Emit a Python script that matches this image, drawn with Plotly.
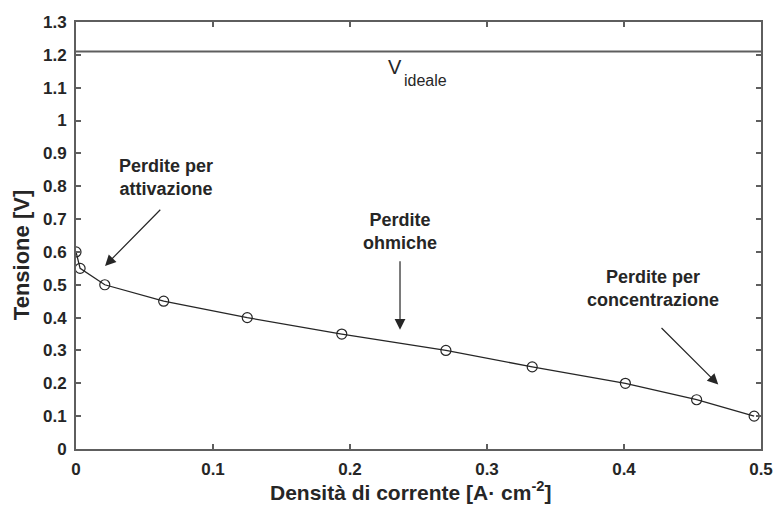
import plotly.graph_objects as go

# Polarization curve of a fuel cell: current density vs. cell voltage
current_density = [0.0, 0.003, 0.021, 0.064, 0.125, 0.194, 0.270, 0.333, 0.401, 0.453, 0.495]
cell_voltage = [0.60, 0.55, 0.50, 0.45, 0.40, 0.35, 0.30, 0.25, 0.20, 0.15, 0.10]

# Ideal (reversible) voltage level
v_ideal = 1.21
ideal_x = [0.0, 0.5]

x_ticks = [0, 0.1, 0.2, 0.3, 0.4, 0.5]
x_tick_labels = ["0", "0.1", "0.2", "0.3", "0.4", "0.5"]
y_ticks = [0, 0.1, 0.2, 0.3, 0.4, 0.5, 0.6, 0.7, 0.8, 0.9, 1.0, 1.1, 1.2, 1.3]
y_tick_labels = ["0", "0.1", "0.2", "0.3", "0.4", "0.5", "0.6", "0.7", "0.8",
                 "0.9", "1", "1.1", "1.2", "1.3"]

AXIS_GREY = "#5e5e5e"
INK = "#262626"
FONT = "Liberation Sans, Arial, sans-serif"

fig = go.Figure()

fig.add_trace(go.Scatter(
    x=ideal_x, y=[v_ideal] * len(ideal_x),
    mode="lines", line=dict(color=AXIS_GREY, width=2),
    hoverinfo="skip", showlegend=False,
))

fig.add_trace(go.Scatter(
    x=current_density, y=cell_voltage,
    mode="lines+markers",
    line=dict(color=INK, width=1.3),
    marker=dict(symbol="circle-open", size=10, color=INK, line=dict(width=1.2)),
    showlegend=False,
))

axis_common = dict(
    showgrid=False, zeroline=False,
    showline=True, linecolor=AXIS_GREY, linewidth=2,
    ticks="inside", ticklen=5, tickwidth=1.5, tickcolor=AXIS_GREY,
    mirror="ticks", automargin=False,
    tickfont=dict(family=FONT, size=17, color=INK, weight="bold"),
)

fig.update_layout(
    width=776, height=506,
    margin=dict(l=76, r=15, t=22, b=57, autoexpand=False),
    paper_bgcolor="white", plot_bgcolor="white",
    xaxis=dict(range=[0, 0.5], tickvals=x_ticks, ticktext=x_tick_labels,
               ticklabelstandoff=4, **axis_common),
    yaxis=dict(range=[0, 1.3], tickvals=y_ticks, ticktext=y_tick_labels,
               ticklabelstandoff=4, **axis_common),
)

note_font = dict(family=FONT, size=18, color=INK, weight="bold")

# Loss regions with arrows pointing at the curve
losses = [
    dict(text="Perdite per<br>attivazione", tx=0.0657, ty=0.827,
         tail=(0.0626, 0.733), tip=(0.0212, 0.5575)),
    dict(text="Perdite<br>ohmiche", tx=0.2365, ty=0.662,
         tail=(0.2365, 0.576), tip=(0.2365, 0.363)),
    dict(text="Perdite per<br>concentrazione", tx=0.4212, ty=0.488,
         tail=(0.4263, 0.373), tip=(0.4688, 0.196)),
]
for item in losses:
    fig.add_annotation(x=item["tx"], y=item["ty"], xref="x", yref="y",
                       text=item["text"], showarrow=False, font=note_font,
                       align="center", xanchor="center", yanchor="middle")
    fig.add_annotation(x=item["tip"][0], y=item["tip"][1], xref="x", yref="y",
                       ax=item["tail"][0], ay=item["tail"][1], axref="x", ayref="y",
                       text="", showarrow=True, arrowhead=2, arrowsize=1.8,
                       arrowwidth=1.2, arrowcolor=INK)

# Label of the ideal voltage line: "V" with a lowered "ideale"
fig.add_annotation(x=0.2263, y=1.1615, xref="x", yref="y", text="V",
                   showarrow=False, font=dict(family=FONT, size=20, color=INK),
                   xanchor="left", yanchor="middle")
fig.add_annotation(x=0.238, y=1.1205, xref="x", yref="y", text="ideale",
                   showarrow=False, font=dict(family=FONT, size=16, color=INK),
                   xanchor="left", yanchor="middle")

# Axis titles
fig.add_annotation(x=0, y=0.454, xref="paper", yref="paper", xshift=-55,
                   text="<b>Tensione [V]</b>", textangle=-90, showarrow=False,
                   font=dict(family=FONT, size=22, color=INK),
                   xanchor="center", yanchor="middle")
fig.add_annotation(x=0.4876, y=0, xref="paper", yref="paper", yshift=-42,
                   text="<b>Densità di corrente [A· cm<sup>-2</sup>]</b>",
                   showarrow=False, font=dict(family=FONT, size=21, color=INK),
                   xanchor="center", yanchor="middle")

fig.write_html("out.html")
